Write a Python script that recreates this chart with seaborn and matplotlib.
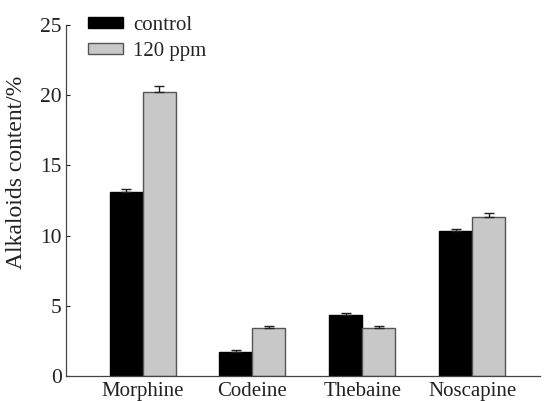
import pandas as pd
import numpy as np
import matplotlib
matplotlib.use("Agg")
import matplotlib.pyplot as plt
import seaborn as sns

alkaloids = ["Morphine", "Codeine", "Thebaine", "Noscapine"]
treatments = ["control", "120 ppm"]
control_vals = [13.1, 1.73, 4.37, 10.3]
ppm_vals = [20.2, 3.40, 3.40, 11.3]
control_err = [0.2, 0.1, 0.14, 0.19]
ppm_err = [0.45, 0.18, 0.18, 0.3]

df = pd.DataFrame({
    "alkaloid": alkaloids * 2,
    "treatment": [treatments[0]] * 4 + [treatments[1]] * 4,
    "content": control_vals + ppm_vals,
})

sns.set_style("ticks")
plt.rcParams["font.family"] = ["Liberation Serif", "DejaVu Serif"]

fig = plt.figure(figsize=(5.44, 4.01), dpi=100)
ax = fig.add_axes([66 / 544, 25 / 401, 474 / 544, 351 / 401])

sns.barplot(data=df, x="alkaloid", y="content", hue="treatment",
            palette=["black", "#c8c8c8"], width=0.6, errorbar=None,
            linewidth=1.0, ax=ax)

# one-sided error bars, edge colours per series
edge_cols = ["black", "#555555"]
errs = [control_err, ppm_err]
for cont, ec, err in zip(ax.containers, edge_cols, errs):
    xs, tops = [], []
    for bar in cont:
        bar.set_edgecolor(ec)
        xs.append(bar.get_x() + bar.get_width() / 2)
        tops.append(bar.get_height())
    ax.errorbar(xs, tops, yerr=[np.zeros(len(err)), err], fmt="none",
                ecolor="#222222", elinewidth=1.0, capsize=3.6, capthick=1.0)

ax.set_ylim(0, 25)
ax.set_xlim(-0.697, 3.618)
ax.set_yticks([0, 5, 10, 15, 20, 25])
ax.tick_params(axis="y", direction="in", length=3.2, width=0.8, pad=3,
               labelsize=15.5, colors="#222222")
ax.tick_params(axis="x", length=0, pad=4, labelsize=15, colors="#222222")
ax.set_xlabel("")
ax.set_ylabel("Alkaloids content/%", fontsize=17, color="#222222")
ax.yaxis.set_label_coords(-0.082, 0.58)

for s in ["top", "right"]:
    ax.spines[s].set_visible(False)
for s in ["left", "bottom"]:
    ax.spines[s].set_color("#444444")
    ax.spines[s].set_linewidth(0.9)

ax.legend_.remove()
handles = [plt.Rectangle((0, 0), 1, 1, facecolor="black", edgecolor="black"),
           plt.Rectangle((0, 0), 1, 1, facecolor="#c8c8c8", edgecolor="#555555")]
fig.legend(handles, treatments, loc="upper left",
           bbox_to_anchor=(88 / 544, 1 - 16 / 401), frameon=False,
           fontsize=15, handlelength=1.7, handleheight=0.45,
           handletextpad=0.45, labelspacing=0.35, borderpad=0, borderaxespad=0)

fig.savefig("out.png", dpi=100)
